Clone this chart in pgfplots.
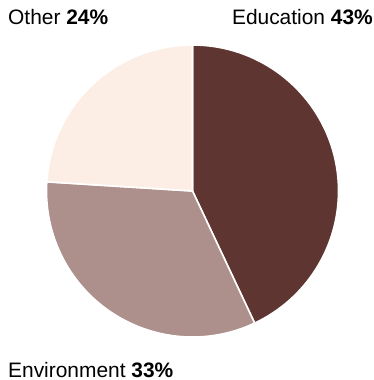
\documentclass[border=0pt]{standalone}
\usepackage{pgfplots}
\pgfplotsset{compat=1.18}
\usepackage{fontspec}
\setmainfont{Liberation Sans}
\definecolor{edu}{HTML}{5E3530}
\definecolor{env}{HTML}{AD908B}
\definecolor{oth}{HTML}{FCEEE4}
\begin{document}
\begin{tikzpicture}
\begin{axis}[
  width=374bp, height=380bp, scale only axis,
  xmin=0, xmax=374, ymin=0, ymax=380,
  axis lines=none, clip=false,
]
\path (axis cs:0,0) rectangle (axis cs:374,380);
% values: Education 43, Environment 33, Other 24 (percent), clockwise from top
\fill[edu, draw=white, line width=1.6pt, line join=round]
  (axis cs:192.5,189) -- ++(90:146bp) arc[start angle=90, end angle={90-3.6*43}, radius=146bp] -- cycle;
\fill[env, draw=white, line width=1.6pt, line join=round]
  (axis cs:192.5,189) -- ++({90-3.6*43}:146bp) arc[start angle={90-3.6*43}, end angle={90-3.6*(43+33)}, radius=146bp] -- cycle;
\fill[oth, draw=white, line width=1.6pt, line join=round]
  (axis cs:192.5,189) -- ++({90-3.6*(43+33)}:146bp) arc[start angle={90-3.6*(43+33)}, end angle={90-3.6*100}, radius=146bp] -- cycle;
\node[anchor=base west, inner sep=0pt, font=\fontsize{21}{25}\selectfont] at (axis cs:8,356) {Other \textbf{24\%}};
\node[anchor=base east, inner sep=0pt, font=\fontsize{21}{25}\selectfont] at (axis cs:373,356) {Education \textbf{43\%}};
\node[anchor=base west, inner sep=0pt, font=\fontsize{21}{25}\selectfont] at (axis cs:8,3) {Environment \textbf{33\%}};
\end{axis}
\end{tikzpicture}
\end{document}
